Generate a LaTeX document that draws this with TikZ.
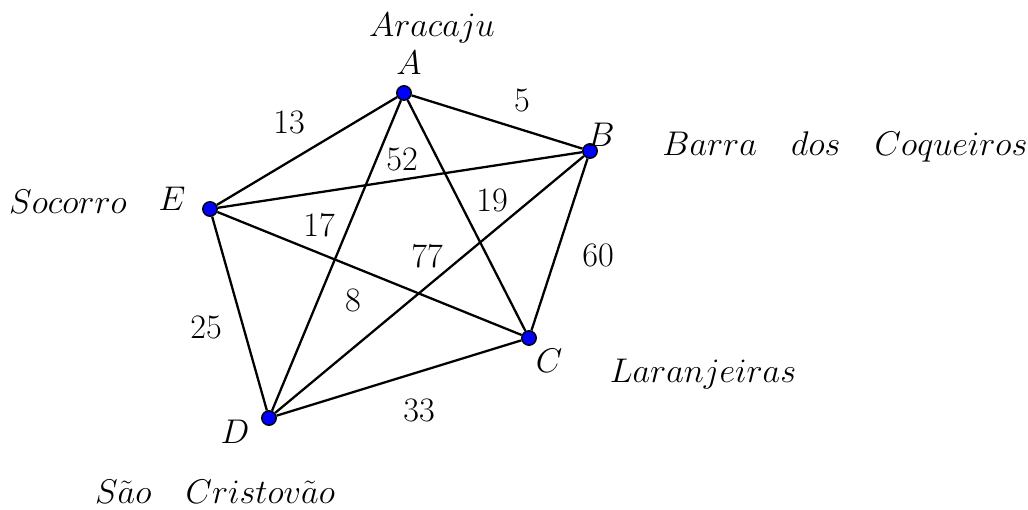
\RequirePackage{fix-cm}
\documentclass[tikz,border=0pt]{standalone}
\usepackage{amsmath}
\usetikzlibrary{positioning}
\begin{document}
\begin{tikzpicture}[
    x=0.02cm, y=-0.02cm,
    vertex/.style={circle, draw=black, fill=blue, line width=0.8pt, inner sep=0pt, minimum size=0.29cm},
    edge/.style={line width=1.3pt},
    lbl/.style={inner sep=0pt, anchor=base},
    city/.style={lbl},
    weight/.style={inner sep=0pt},
    font=\fontsize{19.5}{23}\selectfont
]
\useasboundingbox (0,0) rectangle (1028,510);

% Vertices
\node[vertex] (A) at (404,93) {};
\node[vertex] (B) at (590,151) {};
\node[vertex] (C) at (529,338) {};
\node[vertex] (D) at (269,418) {};
\node[vertex] (E) at (210,209) {};

% Edges
\foreach \u/\v in {A/B, A/C, A/D, A/E, B/C, B/D, B/E, C/D, C/E, D/E}
    \draw[edge] (\u) -- (\v);

% Vertex names
\node[lbl] (nameA) at (409,75) {$A$};
\node[lbl] (nameB) at (601,147) {$B$};
\node[lbl] (nameC) at (549,372) {$C$};
\node[lbl] (nameD) at (235,443) {$D$};
\node[lbl] (nameE) at (172,210) {$E$};

% Cities
\node[city] (cityA) at (432,37) {$Aracaju$};
\node[city] (cityB) at (845,155) {$Barra\quad dos\quad Coqueiros$};
\node[city] (cityC) at (703,382) {$Laranjeiras$};
\node[city] (cityD) at (215,503) {$S\tilde{a}o\quad Cristov\tilde{a}o$};
\node[city] (cityE) at (68,214) {$Socorro$};

% Weights
\node[weight] (wAE) at (289,122) {13};
\node[weight] (wAB) at (522,100) {5};
\node[weight] (wBE) at (402,159) {52};
\node[weight] (wAC) at (492,200) {19};
\node[weight] (wAD) at (319,225) {17};
\node[weight] (wBD) at (427,256) {77};
\node[weight] (wBC) at (598,255) {60};
\node[weight] (wCE) at (353,300) {8};
\node[weight] (wDE) at (206,327) {25};
\node[weight] (wCD) at (419,410) {33};

\end{tikzpicture}
\end{document}
